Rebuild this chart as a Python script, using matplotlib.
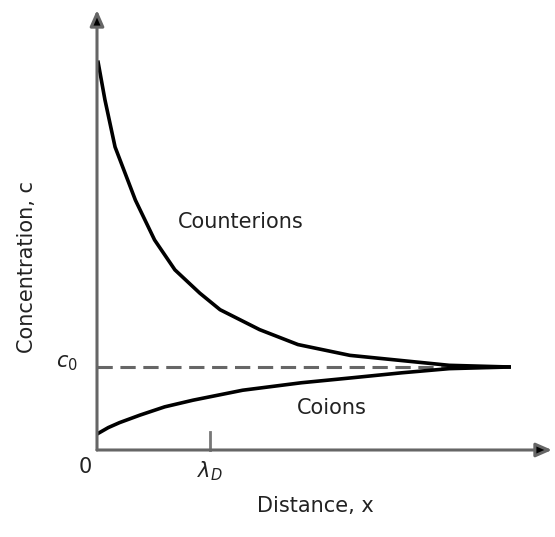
import matplotlib.pyplot as plt

# distance in units of the Debye length, concentration in units of c0
counter_x = [0.01, 0.07, 0.16, 0.34, 0.51, 0.69, 0.91, 1.09, 1.44, 1.78, 2.24, 2.68, 3.12, 3.65]
counter_c = [4.67, 4.22, 3.65, 3.01, 2.53, 2.17, 1.89, 1.69, 1.45, 1.27, 1.14, 1.08, 1.02, 1.00]
co_x = [0.01, 0.10, 0.20, 0.38, 0.60, 0.85, 1.29, 1.81, 2.26, 2.70, 3.12, 3.65]
co_c = [0.20, 0.27, 0.33, 0.42, 0.52, 0.60, 0.72, 0.81, 0.87, 0.93, 0.98, 1.00]
c0 = 1.0
debye = 1.0
x_max = 4.03
y_max = 5.30

fig = plt.figure(figsize=(5.55, 5.37), dpi=100)
ax = fig.add_axes([97 / 555, 87 / 537, 455 / 555, 440 / 537])
ax.set_xlim(0, x_max)
ax.set_ylim(0, y_max)
ax.axis('off')

# axes with arrow heads
for end in [(x_max, 0), (0, y_max)]:
    ax.annotate('', xy=end, xytext=(0, 0), annotation_clip=False,
                arrowprops=dict(arrowstyle='-|>,head_length=0.8,head_width=0.35',
                                color='#666666', lw=2.2, shrinkA=0, shrinkB=0,
                                mutation_scale=12, fc='black', ec='#666666'))

ax.plot([0, 3.65], [c0, c0], color='#666666', lw=2.2, dashes=(5, 2.5), zorder=1)
ax.plot(counter_x, counter_c, color='black', lw=2.6, solid_joinstyle='round', zorder=2)
ax.plot(co_x, co_c, color='black', lw=2.6, solid_joinstyle='round', zorder=2)
ax.plot([debye, debye], [0, 0.22], color='#777777', lw=2, clip_on=False)

txt = dict(color='#222222', fontsize=15, family='DejaVu Sans')
ax.text(1.27, 2.75, 'Counterions', ha='center', va='center', **txt)
ax.text(2.08, 0.50, 'Coions', ha='center', va='center', **txt)
ax.text(-0.10, -0.20, '0', ha='center', va='center', **txt)
ax.text(debye, -0.25, r'$\lambda_D$', ha='center', va='center', **txt)
ax.text(-0.27, 1.05, r'$c_0$', ha='center', va='center', **txt)
ax.text(1.93, -0.67, 'Distance, x', ha='center', va='center', **txt)
ax.text(-0.62, 2.2, 'Concentration, c', ha='center', va='center', rotation=90, **txt)

fig.savefig('out.png', dpi=100)
